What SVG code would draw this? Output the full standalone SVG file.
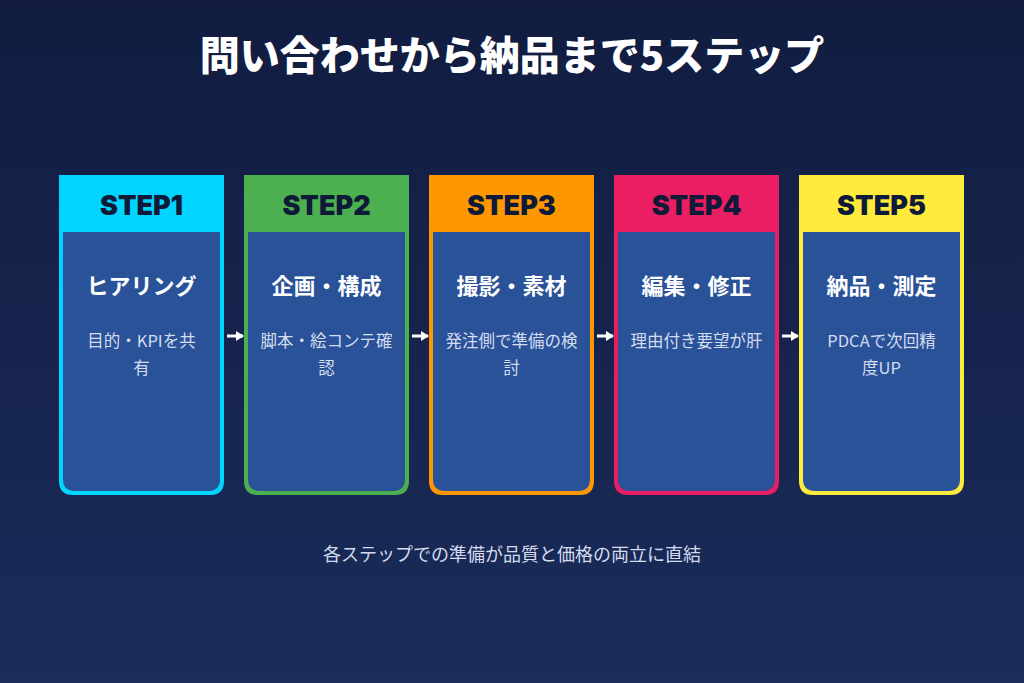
<svg xmlns="http://www.w3.org/2000/svg" width="1024" height="683" viewBox="0 0 1024 683">
<defs>
<linearGradient id="bg" x1="0" y1="0" x2="0" y2="1"><stop offset="0" stop-color="#111c40"/><stop offset="1" stop-color="#1b2c5a"/></linearGradient>
<marker id="ah" markerWidth="8" markerHeight="10" refX="7" refY="5" orient="auto" markerUnits="userSpaceOnUse"><path d="M0,0 L8,5 L0,10 Z" fill="#fff"/></marker>
</defs>
<style>
text{font-family:"Noto Sans CJK JP","Noto Sans",sans-serif;text-anchor:middle}
.h{font-size:27px;font-weight:900;fill:#0f1a38;font-family:"Inter","Noto Sans CJK JP",sans-serif}
.t{font-size:22px;font-weight:700;fill:#fff}
.d{font-size:16.5px;fill:#d4dcef}
.body{fill:#2a5298}
.c{stroke:#fff;stroke-width:3;marker-end:url(#ah)}
</style>
<rect width="1024" height="683" fill="url(#bg)"/>
<text x="512" y="70" style="font-size:40px;font-weight:900;fill:#fff">問い合わせから納品まで5ステップ</text>
<g id="step1">
<path d="M59,175 H224 V481 Q224,495 210,495 H73 Q59,495 59,481 Z" fill="#00d4ff"/>
<path d="M63,232 H220 V479 Q220,491 208,491 H75 Q63,491 63,479 Z" class="body"/>
<text x="141.5" y="215" class="h">STEP1</text>
<text x="141.5" y="294" class="t">ヒアリング</text>
<text x="141.5" y="347" class="d">目的・KPIを共</text><text x="141.5" y="374" class="d">有</text>
</g>
<g id="step2">
<path d="M244,175 H409 V481 Q409,495 395,495 H258 Q244,495 244,481 Z" fill="#4caf50"/>
<path d="M248,232 H405 V479 Q405,491 393,491 H260 Q248,491 248,479 Z" class="body"/>
<text x="326.5" y="215" class="h">STEP2</text>
<text x="326.5" y="294" class="t">企画・構成</text>
<text x="326.5" y="347" class="d">脚本・絵コンテ確</text><text x="326.5" y="374" class="d">認</text>
</g>
<g id="step3">
<path d="M429,175 H594 V481 Q594,495 580,495 H443 Q429,495 429,481 Z" fill="#ff9800"/>
<path d="M433,232 H590 V479 Q590,491 578,491 H445 Q433,491 433,479 Z" class="body"/>
<text x="511.5" y="215" class="h">STEP3</text>
<text x="511.5" y="294" class="t">撮影・素材</text>
<text x="511.5" y="347" class="d">発注側で準備の検</text><text x="511.5" y="374" class="d">討</text>
</g>
<g id="step4">
<path d="M614,175 H779 V481 Q779,495 765,495 H628 Q614,495 614,481 Z" fill="#e91e63"/>
<path d="M618,232 H775 V479 Q775,491 763,491 H630 Q618,491 618,479 Z" class="body"/>
<text x="696.5" y="215" class="h">STEP4</text>
<text x="696.5" y="294" class="t">編集・修正</text>
<text x="696.5" y="347" class="d">理由付き要望が肝</text>
</g>
<g id="step5">
<path d="M799,175 H964 V481 Q964,495 950,495 H813 Q799,495 799,481 Z" fill="#ffeb3b"/>
<path d="M803,232 H960 V479 Q960,491 948,491 H815 Q803,491 803,479 Z" class="body"/>
<text x="881.5" y="215" class="h">STEP5</text>
<text x="881.5" y="294" class="t">納品・測定</text>
<text x="881.5" y="347" class="d">PDCAで次回精</text><text x="881.5" y="374" class="d">度UP</text>
</g>
<g id="connectors">
<line x1="227" y1="336" x2="243" y2="336" class="c"/>
<line x1="412" y1="336" x2="428" y2="336" class="c"/>
<line x1="597" y1="336" x2="613" y2="336" class="c"/>
<line x1="782" y1="336" x2="798" y2="336" class="c"/>
</g>
<text x="512" y="561" style="font-size:18px;fill:#d4dcef">各ステップでの準備が品質と価格の両立に直結</text>
</svg>
